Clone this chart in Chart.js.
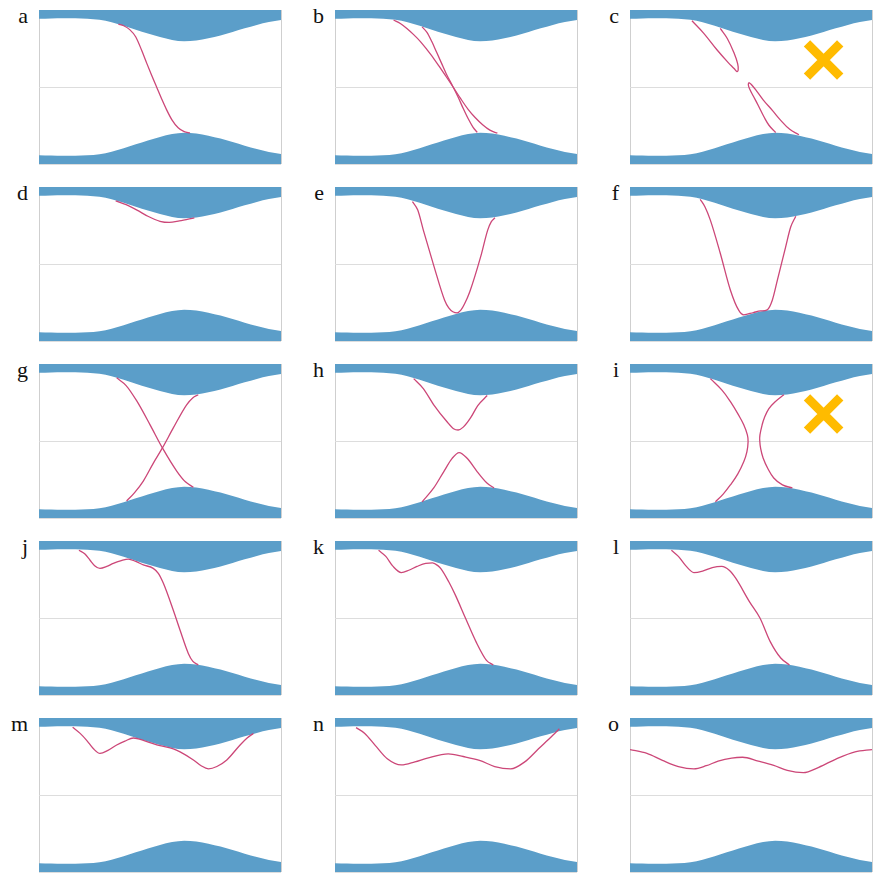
<!DOCTYPE html>
<html>
<head>
<meta charset="utf-8">
<script src="https://cdn.jsdelivr.net/npm/chart.js@4.4.0/dist/chart.umd.min.js"></script>
<style>
body { margin:0; background:#fff; width:873px; height:874px; position:relative; overflow:hidden; }
canvas { position:absolute; }
.lbl { position:absolute; width:30px; text-align:right; font-family:'Liberation Serif', serif; font-size:22px; line-height:22px; color:#111; }
</style>
</head>
<body>
<script>
// band edges (same in every panel)
var bandX = [0, 0.5, 1, 1.5, 2, 2.5, 3, 3.5, 4, 4.5, 5, 5.5, 6, 6.5, 7, 7.5, 8, 8.5, 9, 9.5, 10];
var bandTop = [0.885, 0.89, 0.893, 0.893, 0.886, 0.872, 0.84, 0.795, 0.745, 0.695, 0.65, 0.612, 0.595, 0.605, 0.632, 0.67, 0.715, 0.762, 0.806, 0.843, 0.87];
var bandBottom = [-0.885, -0.89, -0.893, -0.893, -0.886, -0.872, -0.84, -0.795, -0.745, -0.695, -0.65, -0.612, -0.595, -0.605, -0.632, -0.67, -0.715, -0.762, -0.806, -0.843, -0.87];

// pink curves, [x, y]
var curveA = [[3.28,0.815],[3.5,0.795],[3.75,0.745],[4.0,0.65],[4.25,0.47],[4.45,0.31],[4.65,0.155],[4.86,0],[5.07,-0.155],[5.28,-0.3],[5.5,-0.43],[5.75,-0.53],[6.0,-0.58],[6.24,-0.595]];
var curveB1 = [[2.42,0.87],[2.7,0.825],[2.97,0.76],[3.25,0.68],[3.53,0.59],[3.8,0.485],[4.08,0.37],[4.3,0.27],[4.56,0.15],[4.88,0],[5.2,-0.155],[5.5,-0.29],[5.8,-0.4],[6.1,-0.49],[6.4,-0.56],[6.71,-0.6]];
var curveB2 = [[3.6,0.78],[3.8,0.71],[4.0,0.59],[4.2,0.45],[4.4,0.31],[4.6,0.17],[4.88,0],[5.1,-0.14],[5.3,-0.28],[5.5,-0.41],[5.7,-0.52],[5.88,-0.59]];
var curveC1 = [[2.56,0.86],[3.04,0.7],[3.6,0.48],[4.05,0.32],[4.3,0.24],[4.42,0.2],[4.47,0.22],[4.45,0.3],[4.3,0.44],[4.02,0.63],[3.73,0.76]];
var curveC2 = [[6.02,-0.59],[5.75,-0.5],[5.54,-0.39],[5.3,-0.24],[5.1,-0.12],[4.95,-0.03],[4.89,0.03],[4.93,0.055],[5.05,0.02],[5.25,-0.06],[5.51,-0.17],[5.9,-0.31],[6.22,-0.43],[6.6,-0.55],[6.98,-0.62]];
var curveD = [[3.17,0.82],[3.6,0.77],[4.05,0.7],[4.5,0.62],[5.0,0.555],[5.38,0.54],[5.8,0.56],[6.42,0.6]];
var curveE = [[3.2,0.81],[3.42,0.7],[3.65,0.44],[4.09,-0.03],[4.53,-0.47],[4.7,-0.57],[4.87,-0.62],[5.05,-0.635],[5.2,-0.6],[5.35,-0.52],[5.57,-0.36],[6.02,0.095],[6.31,0.44],[6.46,0.55],[6.61,0.6]];
var curveF = [[2.9,0.84],[3.1,0.74],[3.32,0.57],[3.73,0.14],[4.15,-0.34],[4.49,-0.6],[4.7,-0.66],[5.1,-0.63],[5.4,-0.61],[5.67,-0.595],[5.88,-0.47],[6.09,-0.21],[6.43,0.22],[6.64,0.48],[6.85,0.62]];
var curveG1 = [[3.21,0.82],[3.6,0.72],[4.04,0.52],[4.59,0.21],[5.1,-0.09],[5.69,-0.39],[6.05,-0.53],[6.38,-0.6]];
var curveG2 = [[3.62,-0.78],[3.95,-0.67],[4.31,-0.52],[4.72,-0.29],[5.1,-0.09],[5.55,0.17],[6.1,0.47],[6.35,0.56],[6.58,0.6]];
var curveH1 = [[3.25,0.81],[3.65,0.68],[4.08,0.47],[4.63,0.25],[4.9,0.16],[5.09,0.143],[5.3,0.18],[5.6,0.3],[5.9,0.46],[6.29,0.59]];
var curveH2 = [[3.6,-0.79],[4.08,-0.61],[4.49,-0.4],[4.84,-0.225],[5.13,-0.15],[5.46,-0.225],[5.88,-0.4],[6.29,-0.55],[6.57,-0.61]];
var curveI1 = [[3.32,0.81],[3.8,0.66],[4.15,0.51],[4.5,0.33],[4.7,0.21],[4.85,0.08],[4.88,-0.01],[4.83,-0.14],[4.7,-0.27],[4.45,-0.43],[4.15,-0.57],[3.85,-0.69],[3.53,-0.79]];
var curveI2 = [[6.36,0.6],[6.0,0.51],[5.74,0.42],[5.55,0.3],[5.46,0.21],[5.37,0.08],[5.36,0.01],[5.4,-0.1],[5.5,-0.22],[5.7,-0.36],[5.94,-0.48],[6.3,-0.57],[6.71,-0.61]];
var curveJ = [[1.65,0.88],[1.9,0.83],[2.11,0.75],[2.3,0.68],[2.52,0.645],[2.8,0.67],[3.07,0.71],[3.4,0.745],[3.69,0.765],[4.0,0.735],[4.31,0.69],[4.72,0.645],[4.93,0.58],[5.14,0.45],[5.55,0.1],[5.83,-0.16],[6.17,-0.46],[6.35,-0.56],[6.58,-0.61]];
var curveK = [[1.8,0.88],[2.1,0.8],[2.4,0.67],[2.74,0.59],[3.05,0.62],[3.39,0.67],[3.75,0.71],[4.03,0.715],[4.25,0.68],[4.39,0.635],[4.7,0.47],[4.97,0.3],[5.39,0],[5.83,-0.31],[6.26,-0.55],[6.54,-0.61]];
var curveL = [[1.71,0.88],[2.0,0.8],[2.3,0.68],[2.64,0.59],[3.0,0.61],[3.4,0.655],[3.79,0.67],[4.1,0.62],[4.36,0.52],[4.94,0.21],[5.37,0],[5.8,-0.31],[6.23,-0.52],[6.59,-0.61]];
var curveM = [[1.39,0.88],[1.7,0.8],[1.97,0.71],[2.25,0.6],[2.52,0.54],[2.85,0.58],[3.21,0.65],[3.55,0.7],[3.9,0.74],[4.4,0.7],[5.0,0.64],[5.55,0.6],[5.83,0.56],[6.38,0.455],[6.7,0.38],[7.0,0.34],[7.35,0.37],[7.76,0.455],[8.31,0.65],[8.6,0.74],[8.86,0.8]];
var curveN = [[0.87,0.875],[1.23,0.8],[1.66,0.645],[2.16,0.47],[2.74,0.39],[3.3,0.43],[3.82,0.48],[4.68,0.535],[5.3,0.5],[5.97,0.45],[6.6,0.37],[7.26,0.34],[7.84,0.43],[8.41,0.6],[9.0,0.775],[9.27,0.86]];
var curveO = [[0,0.59],[0.7,0.54],[1.34,0.45],[2.0,0.37],[2.64,0.34],[3.15,0.38],[3.64,0.44],[4.2,0.48],[4.65,0.49],[5.3,0.44],[5.94,0.385],[6.5,0.32],[7.16,0.29],[7.8,0.36],[8.53,0.47],[9.3,0.56],[10,0.59]];

var panelLabels = ['a','b','c','d','e','f','g','h','i','j','k','l','m','n','o'];
var panelCurves = [[curveA],[curveB1,curveB2],[curveC1,curveC2],[curveD],[curveE],[curveF],
                   [curveG1,curveG2],[curveH1,curveH2],[curveI1,curveI2],[curveJ],[curveK],[curveL],
                   [curveM],[curveN],[curveO]];
var crossedPanels = ['c','i'];
var crossX = 8, crossY = 0.35;

var BLUE = '#5b9ec9';
var PINK = '#cc4778';
var GOLD = '#ffbb00';

// grid layout
var colLeft = [39, 335, 630];
var rowTop = [10, 187, 364, 541, 718];
var plotW = 242, plotH = 154;

function toPoints(xs, ys) {
    return xs.map(function (x, i) { return {x: x, y: ys[i]}; });
}
function pairs(arr) {
    return arr.map(function (p) { return {x: p[0], y: p[1]}; });
}
// x only goes one way -> monotone spline, otherwise plain bezier
function isSorted(arr) {
    for (var k = 1; k < arr.length; k++) {
        if (arr[k][0] <= arr[k - 1][0]) return false;
    }
    return true;
}

panelLabels.forEach(function (lab, i) {
    var left = colLeft[i % 3];
    var top = rowTop[Math.floor(i / 3)];

    var cv = document.createElement('canvas');
    cv.width = plotW + 4;
    cv.height = plotH + 4;
    cv.style.left = (left - 2) + 'px';
    cv.style.top = (top - 2) + 'px';
    document.body.appendChild(cv);

    var lb = document.createElement('div');
    lb.className = 'lbl';
    lb.textContent = lab;
    lb.style.left = (left - 41) + 'px';
    lb.style.top = (top - 5) + 'px';
    document.body.appendChild(lb);

    var datasets = [
        {data: toPoints(bandX, bandTop), fill: 'end', backgroundColor: BLUE, borderWidth: 0,
         pointRadius: 0, cubicInterpolationMode: 'monotone', order: 3},
        {data: toPoints(bandX, bandBottom), fill: 'start', backgroundColor: BLUE, borderWidth: 0,
         pointRadius: 0, cubicInterpolationMode: 'monotone', order: 3}
    ];
    panelCurves[i].forEach(function (c) {
        var ds = {data: pairs(c), borderColor: PINK, borderWidth: 1.3, fill: false,
                  pointRadius: 0, order: 2};
        if (isSorted(c)) ds.cubicInterpolationMode = 'monotone';
        else ds.tension = 0.4;
        datasets.push(ds);
    });
    if (crossedPanels.indexOf(lab) >= 0) {
        datasets.push({data: [{x: crossX, y: crossY}], showLine: false, pointStyle: 'crossRot',
                       pointRadius: 23.5, pointBorderWidth: 9, pointBorderColor: GOLD, order: 1});
    }

    new Chart(cv.getContext('2d'), {
        type: 'line',
        data: {datasets: datasets},
        options: {
            responsive: false,
            animation: false,
            events: [],
            layout: {padding: 2, autoPadding: false},
            plugins: {legend: {display: false}, tooltip: {enabled: false}},
            scales: {
                x: {type: 'linear', min: 0, max: 10,
                    ticks: {display: false, stepSize: 10},
                    grid: {color: '#cfcfcf', drawTicks: false},
                    border: {display: false}},
                y: {min: -1, max: 1,
                    ticks: {display: false, stepSize: 1},
                    grid: {color: '#dddddd', drawTicks: false},
                    border: {display: false}}
            }
        }
    });
});
</script>
</body>
</html>
